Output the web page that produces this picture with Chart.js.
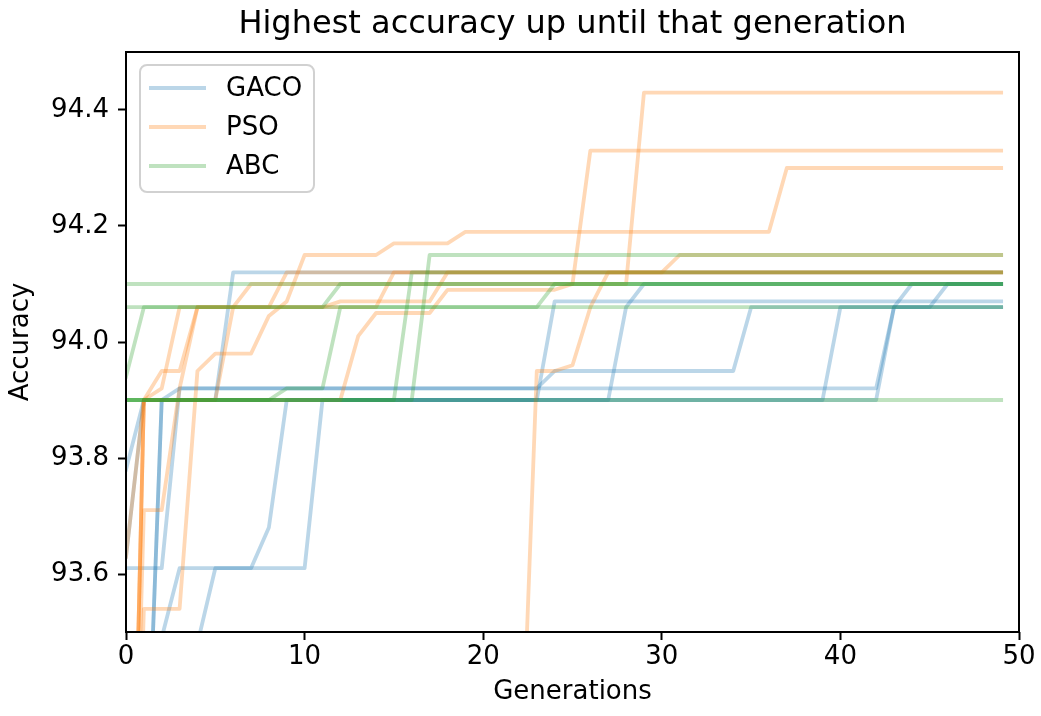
<!DOCTYPE html>
<html>
<head>
<meta charset="utf-8">
<script src="https://cdn.jsdelivr.net/npm/chart.js@4.4.0/dist/chart.umd.min.js"></script>
<style>
  html, body { margin: 0; padding: 0; background: #fff; }
</style>
</head>
<body>
<canvas id="accChart" width="1041" height="716"></canvas>
<script>
const generations = Array.from({ length: 50 }, (_, i) => i);
const xTicks = [0, 10, 20, 30, 40, 50];
const yTicks = [93.6, 93.8, 94.0, 94.2, 94.4];
const algorithms = ['GACO', 'PSO', 'ABC'];
const chartTitle = 'Highest accuracy up until that generation';

// best accuracy so far, one array per run (generations 0..49)
const gaco1 = [93.78, 93.90, 93.90, 93.90, 93.90, 93.90, 93.90, 93.90, 93.90, 93.90,
  93.90, 93.90, 93.90, 93.90, 93.90, 93.90, 93.90, 93.90, 93.90, 93.90,
  93.90, 93.90, 93.90, 93.90, 93.90, 93.90, 93.90, 93.90, 93.90, 93.90,
  93.90, 93.90, 93.90, 93.90, 93.90, 93.90, 93.90, 93.90, 93.90, 93.90,
  94.06, 94.06, 94.06, 94.06, 94.06, 94.06, 94.06, 94.06, 94.06, 94.06];
const gaco2 = [93.63, 93.90, 93.90, 93.90, 93.90, 93.90, 93.90, 93.90, 93.90, 93.90,
  93.90, 93.90, 93.90, 93.90, 93.90, 93.90, 93.90, 93.90, 93.90, 93.90,
  93.90, 93.90, 93.90, 93.90, 93.90, 93.90, 93.90, 93.90, 94.06, 94.10,
  94.10, 94.10, 94.10, 94.10, 94.10, 94.10, 94.10, 94.10, 94.10, 94.10,
  94.10, 94.10, 94.10, 94.10, 94.10, 94.10, 94.10, 94.10, 94.10, 94.10];
const gaco3 = [92.90, 93.08, 93.90, 93.90, 93.90, 93.90, 94.12, 94.12, 94.12, 94.12,
  94.12, 94.12, 94.12, 94.12, 94.12, 94.12, 94.12, 94.12, 94.12, 94.12,
  94.12, 94.12, 94.12, 94.12, 94.12, 94.12, 94.12, 94.12, 94.12, 94.12,
  94.12, 94.12, 94.12, 94.12, 94.12, 94.12, 94.12, 94.12, 94.12, 94.12,
  94.12, 94.12, 94.12, 94.12, 94.12, 94.12, 94.12, 94.12, 94.12, 94.12];
const gaco4 = [93.61, 93.61, 93.61, 93.92, 93.92, 93.92, 93.92, 93.92, 93.92, 93.92,
  93.92, 93.92, 93.92, 93.92, 93.92, 93.92, 93.92, 93.92, 93.92, 93.92,
  93.92, 93.92, 93.92, 93.92, 93.95, 93.95, 93.95, 93.95, 93.95, 93.95,
  93.95, 93.95, 93.95, 93.95, 93.95, 94.06, 94.06, 94.06, 94.06, 94.06,
  94.06, 94.06, 94.06, 94.06, 94.06, 94.06, 94.06, 94.06, 94.06, 94.06];
const gaco5 = [92.80, 92.90, 93.49, 93.61, 93.61, 93.61, 93.61, 93.61, 93.61, 93.61,
  93.61, 93.90, 93.90, 93.90, 93.90, 93.90, 93.90, 93.90, 93.90, 93.90,
  93.90, 93.90, 93.90, 93.90, 93.90, 93.90, 93.90, 93.90, 93.90, 93.90,
  93.90, 93.90, 93.90, 93.90, 93.90, 93.90, 93.90, 93.90, 93.90, 93.90,
  93.90, 93.90, 93.90, 94.06, 94.06, 94.06, 94.10, 94.10, 94.10, 94.10];
const gaco6 = [92.70, 92.85, 93.00, 93.20, 93.48, 93.61, 93.61, 93.61, 93.68, 93.90,
  93.90, 93.90, 93.90, 93.90, 93.90, 93.90, 93.90, 93.90, 93.90, 93.90,
  93.90, 93.90, 93.90, 93.90, 94.07, 94.07, 94.07, 94.07, 94.07, 94.07,
  94.07, 94.07, 94.07, 94.07, 94.07, 94.07, 94.07, 94.07, 94.07, 94.07,
  94.07, 94.07, 94.07, 94.07, 94.07, 94.07, 94.07, 94.07, 94.07, 94.07];
const gaco7 = [92.90, 93.08, 93.90, 93.92, 93.92, 93.92, 93.92, 93.92, 93.92, 93.92,
  93.92, 93.92, 93.92, 93.92, 93.92, 93.92, 93.92, 93.92, 93.92, 93.92,
  93.92, 93.92, 93.92, 93.92, 93.92, 93.92, 93.92, 93.92, 93.92, 93.92,
  93.92, 93.92, 93.92, 93.92, 93.92, 93.92, 93.92, 93.92, 93.92, 93.92,
  93.92, 93.92, 93.92, 94.06, 94.10, 94.10, 94.10, 94.10, 94.10, 94.10];

const pso1 = [92.60, 93.90, 93.90, 93.90, 93.90, 93.90, 94.06, 94.10, 94.10, 94.10,
  94.10, 94.10, 94.10, 94.10, 94.10, 94.10, 94.10, 94.10, 94.10, 94.10,
  94.10, 94.10, 94.10, 94.10, 94.10, 94.10, 94.10, 94.10, 94.10, 94.43,
  94.43, 94.43, 94.43, 94.43, 94.43, 94.43, 94.43, 94.43, 94.43, 94.43,
  94.43, 94.43, 94.43, 94.43, 94.43, 94.43, 94.43, 94.43, 94.43, 94.43];
const pso2 = [92.60, 93.90, 93.90, 93.90, 93.90, 93.90, 93.90, 93.90, 93.90, 93.90,
  93.90, 93.90, 93.90, 94.01, 94.05, 94.05, 94.05, 94.05, 94.09, 94.09,
  94.09, 94.09, 94.09, 94.09, 94.09, 94.10, 94.33, 94.33, 94.33, 94.33,
  94.33, 94.33, 94.33, 94.33, 94.33, 94.33, 94.33, 94.33, 94.33, 94.33,
  94.33, 94.33, 94.33, 94.33, 94.33, 94.33, 94.33, 94.33, 94.33, 94.33];
const pso3 = [92.50, 93.54, 93.54, 93.54, 93.95, 93.98, 93.98, 93.98, 94.045, 94.07,
  94.15, 94.15, 94.15, 94.15, 94.15, 94.17, 94.17, 94.17, 94.17, 94.19,
  94.19, 94.19, 94.19, 94.19, 94.19, 94.19, 94.19, 94.19, 94.19, 94.19,
  94.19, 94.19, 94.19, 94.19, 94.19, 94.19, 94.19, 94.30, 94.30, 94.30,
  94.30, 94.30, 94.30, 94.30, 94.30, 94.30, 94.30, 94.30, 94.30, 94.30];
const pso4 = [93.13, 93.13, 93.13, 93.13, 93.13, 93.13, 93.13, 93.13, 93.13, 93.13,
  93.13, 93.13, 93.13, 93.13, 93.13, 93.13, 93.13, 93.13, 93.13, 93.13,
  93.13, 93.13, 93.13, 93.95, 93.95, 93.96, 94.06, 94.12, 94.12, 94.12,
  94.12, 94.15, 94.15, 94.15, 94.15, 94.15, 94.15, 94.15, 94.15, 94.15,
  94.15, 94.15, 94.15, 94.15, 94.15, 94.15, 94.15, 94.15, 94.15, 94.15];
const pso5 = [92.60, 93.71, 93.71, 93.92, 94.06, 94.06, 94.06, 94.06, 94.06, 94.06,
  94.06, 94.06, 94.06, 94.06, 94.06, 94.12, 94.12, 94.12, 94.12, 94.12,
  94.12, 94.12, 94.12, 94.12, 94.12, 94.12, 94.12, 94.12, 94.12, 94.12,
  94.12, 94.12, 94.12, 94.12, 94.12, 94.12, 94.12, 94.12, 94.12, 94.12,
  94.12, 94.12, 94.12, 94.12, 94.12, 94.12, 94.12, 94.12, 94.12, 94.12];
const pso6 = [93.63, 93.90, 93.92, 94.06, 94.06, 94.06, 94.06, 94.06, 94.06, 94.12,
  94.12, 94.12, 94.12, 94.12, 94.12, 94.12, 94.12, 94.12, 94.12, 94.12,
  94.12, 94.12, 94.12, 94.12, 94.12, 94.12, 94.12, 94.12, 94.12, 94.12,
  94.12, 94.12, 94.12, 94.12, 94.12, 94.12, 94.12, 94.12, 94.12, 94.12,
  94.12, 94.12, 94.12, 94.12, 94.12, 94.12, 94.12, 94.12, 94.12, 94.12];
const pso7 = [92.60, 93.90, 93.95, 93.95, 94.06, 94.06, 94.06, 94.06, 94.06, 94.06,
  94.06, 94.06, 94.07, 94.07, 94.07, 94.07, 94.07, 94.07, 94.12, 94.12,
  94.12, 94.12, 94.12, 94.12, 94.12, 94.12, 94.12, 94.12, 94.12, 94.12,
  94.12, 94.12, 94.12, 94.12, 94.12, 94.12, 94.12, 94.12, 94.12, 94.12,
  94.12, 94.12, 94.12, 94.12, 94.12, 94.12, 94.12, 94.12, 94.12, 94.12];

const abc1 = [94.10, 94.10, 94.10, 94.10, 94.10, 94.10, 94.10, 94.10, 94.10, 94.10,
  94.10, 94.10, 94.10, 94.10, 94.10, 94.10, 94.10, 94.10, 94.10, 94.10,
  94.10, 94.10, 94.10, 94.10, 94.10, 94.10, 94.10, 94.10, 94.10, 94.10,
  94.10, 94.10, 94.10, 94.10, 94.10, 94.10, 94.10, 94.10, 94.10, 94.10,
  94.10, 94.10, 94.10, 94.10, 94.10, 94.10, 94.10, 94.10, 94.10, 94.10];
const abc2 = [94.06, 94.06, 94.06, 94.06, 94.06, 94.06, 94.06, 94.06, 94.06, 94.06,
  94.06, 94.06, 94.06, 94.06, 94.06, 94.06, 94.06, 94.06, 94.06, 94.06,
  94.06, 94.06, 94.06, 94.06, 94.10, 94.10, 94.10, 94.10, 94.10, 94.10,
  94.10, 94.10, 94.10, 94.10, 94.10, 94.10, 94.10, 94.10, 94.10, 94.10,
  94.10, 94.10, 94.10, 94.10, 94.10, 94.10, 94.10, 94.10, 94.10, 94.10];
const abc3 = [93.94, 94.06, 94.06, 94.06, 94.06, 94.06, 94.06, 94.06, 94.06, 94.06,
  94.06, 94.06, 94.10, 94.10, 94.10, 94.10, 94.10, 94.10, 94.10, 94.10,
  94.10, 94.10, 94.10, 94.10, 94.10, 94.10, 94.10, 94.10, 94.10, 94.10,
  94.10, 94.10, 94.10, 94.10, 94.10, 94.10, 94.10, 94.10, 94.10, 94.10,
  94.10, 94.10, 94.10, 94.10, 94.10, 94.10, 94.10, 94.10, 94.10, 94.10];
const abc4 = [93.90, 93.90, 93.90, 93.90, 93.90, 93.90, 93.90, 93.90, 93.90, 93.90,
  93.90, 93.90, 93.90, 93.90, 93.90, 93.90, 94.12, 94.12, 94.12, 94.12,
  94.12, 94.12, 94.12, 94.12, 94.12, 94.12, 94.12, 94.12, 94.12, 94.12,
  94.12, 94.12, 94.12, 94.12, 94.12, 94.12, 94.12, 94.12, 94.12, 94.12,
  94.12, 94.12, 94.12, 94.12, 94.12, 94.12, 94.12, 94.12, 94.12, 94.12];
const abc5 = [93.90, 93.90, 93.90, 93.90, 93.90, 93.90, 93.90, 93.90, 93.90, 93.90,
  93.90, 93.90, 93.90, 93.90, 93.90, 93.90, 93.90, 94.15, 94.15, 94.15,
  94.15, 94.15, 94.15, 94.15, 94.15, 94.15, 94.15, 94.15, 94.15, 94.15,
  94.15, 94.15, 94.15, 94.15, 94.15, 94.15, 94.15, 94.15, 94.15, 94.15,
  94.15, 94.15, 94.15, 94.15, 94.15, 94.15, 94.15, 94.15, 94.15, 94.15];
const abc6 = [93.90, 93.90, 93.90, 93.90, 93.90, 93.90, 93.90, 93.90, 93.90, 93.92,
  93.92, 93.92, 94.06, 94.06, 94.06, 94.06, 94.06, 94.06, 94.06, 94.06,
  94.06, 94.06, 94.06, 94.06, 94.06, 94.06, 94.06, 94.06, 94.06, 94.06,
  94.06, 94.06, 94.06, 94.06, 94.06, 94.06, 94.06, 94.06, 94.06, 94.06,
  94.06, 94.06, 94.06, 94.06, 94.06, 94.06, 94.06, 94.06, 94.06, 94.06];
const abc7 = [93.90, 93.90, 93.90, 93.90, 93.90, 93.90, 93.90, 93.90, 93.90, 93.90,
  93.90, 93.90, 93.90, 93.90, 93.90, 93.90, 93.90, 93.90, 93.90, 93.90,
  93.90, 93.90, 93.90, 93.90, 93.90, 93.90, 93.90, 93.90, 93.90, 93.90,
  93.90, 93.90, 93.90, 93.90, 93.90, 93.90, 93.90, 93.90, 93.90, 93.90,
  93.90, 93.90, 93.90, 93.90, 93.90, 93.90, 93.90, 93.90, 93.90, 93.90];

const gacoRuns = [gaco1, gaco2, gaco3, gaco4, gaco5, gaco6, gaco7];
const psoRuns = [pso1, pso2, pso3, pso4, pso5, pso6, pso7];
const abcRuns = [abc1, abc2, abc3, abc4, abc5, abc6, abc7];

const FONT = 'DejaVu Sans';
const colors = {
    gaco: 'rgba(31, 119, 180, 0.3)',
    pso: 'rgba(255, 127, 14, 0.3)',
    abc: 'rgba(44, 160, 44, 0.3)'
};
const LINE_W = 3.8;

// lower order is painted last, so ABC sits on top like the original plot
const runDatasets = (runs, label, color, order) => runs.map(run => ({
    label: label,
    data: run.map((v, i) => ({ x: generations[i], y: v })),
    borderColor: color,
    borderWidth: LINE_W,
    borderJoinStyle: 'round',
    borderCapStyle: 'square',
    pointRadius: 0,
    pointHoverRadius: 0,
    tension: 0,
    fill: false,
    clip: 0,
    order: order
}));

// black box around the axes, plus the title centred over the plot area
const frame = {
    id: 'frame',
    afterDatasetsDraw(chart) {
        const { ctx, chartArea: a } = chart;
        ctx.save();
        ctx.strokeStyle = '#000';
        ctx.lineWidth = 2;
        ctx.strokeRect(a.left, a.top, a.right - a.left, a.bottom - a.top);
        ctx.font = '32px "' + FONT + '"';
        ctx.fillStyle = '#000';
        ctx.textAlign = 'center';
        ctx.textBaseline = 'middle';
        ctx.fillText(chartTitle, (a.left + a.right) / 2, 25);
        ctx.restore();
    }
};

// one legend entry per algorithm, drawn inside the upper-left corner
const innerLegend = {
    id: 'innerLegend',
    afterDraw(chart) {
        const ctx = chart.ctx;
        const entries = [colors.gaco, colors.pso, colors.abc];
        const x = 140, y = 65, w = 174, h = 127, r = 7;
        ctx.save();
        ctx.beginPath();
        ctx.roundRect(x, y, w, h, r);
        ctx.fillStyle = 'rgba(255, 255, 255, 0.8)';
        ctx.fill();
        ctx.strokeStyle = 'rgba(204, 204, 204, 0.9)';
        ctx.lineWidth = 2;
        ctx.stroke();
        ctx.font = '26px "' + FONT + '"';
        ctx.textBaseline = 'middle';
        ctx.fillStyle = '#000';
        algorithms.forEach((name, i) => {
            const ly = 88 + i * 39;
            ctx.beginPath();
            ctx.moveTo(149, ly);
            ctx.lineTo(206, ly);
            ctx.strokeStyle = entries[i];
            ctx.lineWidth = LINE_W;
            ctx.stroke();
            ctx.fillText(name, 226, ly + 1);
        });
        ctx.restore();
    }
};

new Chart(document.getElementById('accChart').getContext('2d'), {
    type: 'line',
    data: {
        datasets: [
            ...runDatasets(abcRuns, 'ABC', colors.abc, 0),
            ...runDatasets(psoRuns, 'PSO', colors.pso, 1),
            ...runDatasets(gacoRuns, 'GACO', colors.gaco, 2)
        ]
    },
    options: {
        responsive: false,
        animation: false,
        layout: { padding: { left: 0, right: 22, top: 52, bottom: 0 } },
        scales: {
            x: {
                type: 'linear',
                min: 0,
                max: 50,
                afterBuildTicks: s => { s.ticks = xTicks.map(v => ({ value: v })); },
                afterFit: s => { s.height = 84; },
                ticks: {
                    color: '#000',
                    font: { family: FONT, size: 26 },
                    padding: 2,
                    maxRotation: 0,
                    callback: v => String(v)
                },
                grid: { drawOnChartArea: false, tickLength: 8, tickWidth: 2, tickColor: '#000' },
                border: { display: false },
                title: {
                    display: true,
                    text: 'Generations',
                    color: '#000',
                    font: { family: FONT, size: 26 },
                    padding: { top: 0, bottom: 8 }
                }
            },
            y: {
                min: 93.5,
                max: 94.5,
                afterBuildTicks: s => { s.ticks = yTicks.map(v => ({ value: v })); },
                afterFit: s => { s.width = 126; },
                ticks: {
                    color: '#000',
                    font: { family: FONT, size: 26 },
                    padding: 9,
                    callback: v => v.toFixed(1)
                },
                grid: { drawOnChartArea: false, tickLength: 8, tickWidth: 2, tickColor: '#000' },
                border: { display: false },
                title: {
                    display: true,
                    text: 'Accuracy',
                    color: '#000',
                    font: { family: FONT, size: 26 },
                    padding: { top: 6, bottom: 0 }
                }
            }
        },
        plugins: {
            legend: { display: false },
            tooltip: { enabled: false },
            title: { display: false }
        }
    },
    plugins: [frame, innerLegend]
});
</script>
</body>
</html>
